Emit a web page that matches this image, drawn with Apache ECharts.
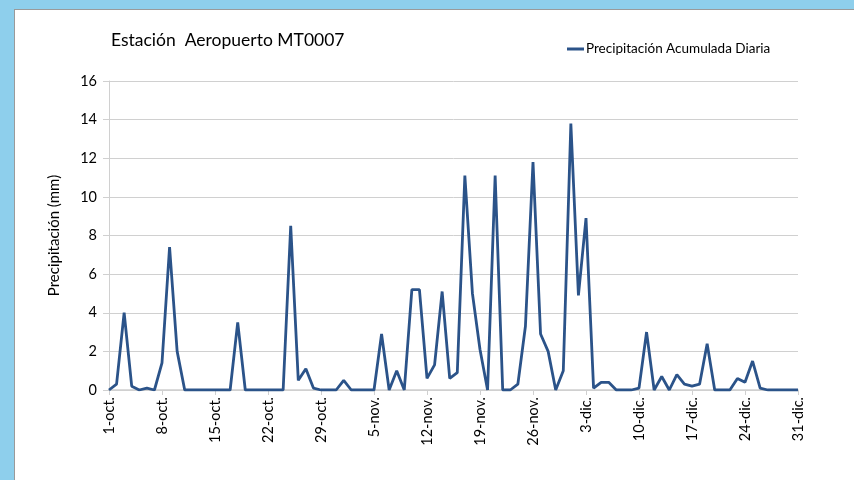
<!DOCTYPE html>
<html>
<head>
<meta charset="utf-8">
<script src="https://cdn.jsdelivr.net/npm/echarts@6/dist/echarts.min.js"></script>
<style>
  html, body { margin: 0; padding: 0; }
  body { width: 854px; height: 480px; background: #8ecfec; position: relative; overflow: hidden; }
  .panel { position: absolute; left: 14px; top: 9px; right: 0; bottom: 0; background: #fff;
           border-left: 1px solid #9a9a9a; border-top: 1px solid #9a9a9a; }
  #chart { position: absolute; left: 0; top: 0; width: 854px; height: 480px; }
</style>
</head>
<body>
<div class="panel"></div>
<div id="chart"></div>
<script>
// meses del periodo (nombre, días)
const months = [['oct.', 31], ['nov.', 30], ['dic.', 31]];
const categories = [];
months.forEach(function (m) {
  for (let d = 1; d <= m[1]; d++) categories.push(d + '-' + m[0]);
});

// precipitación diaria (mm), 1-oct a 31-dic
const precip = [
  0, 0.3, 4.0, 0.2, 0, 0.1, 0, 1.4, 7.4, 2.0,
  0, 0, 0, 0, 0, 0, 0, 3.5, 0, 0,
  0, 0, 0, 0, 8.5, 0.5, 1.1, 0.1, 0, 0,
  0, 0.5, 0, 0, 0, 0, 2.9, 0, 1.0, 0,
  5.2, 5.2, 0.6, 1.3, 5.1, 0.6, 0.9, 11.1, 5.0, 2.1,
  0, 11.1, 0, 0, 0.3, 3.3, 11.8, 2.9, 2.0, 0,
  1.0, 13.8, 4.9, 8.9, 0.1, 0.4, 0.4, 0, 0, 0,
  0.1, 3.0, 0, 0.7, 0, 0.8, 0.3, 0.2, 0.3, 2.4,
  0, 0, 0, 0.6, 0.4, 1.5, 0.1, 0, 0, 0,
  0, 0
];

const font = 'Lato, "Open Sans", sans-serif';
const chart = echarts.init(document.getElementById('chart'));
chart.setOption({
  backgroundColor: 'transparent',
  textStyle: { fontFamily: font },
  title: {
    text: 'Estación  Aeropuerto MT0007',
    left: 106, top: 26,
    textStyle: { fontSize: 17.5, fontWeight: 'normal', color: '#000', fontFamily: font }
  },
  legend: {
    left: 562, top: 37,
    icon: 'rect', itemWidth: 17, itemHeight: 3, itemGap: 4,
    textStyle: { fontSize: 13.5, color: '#000', fontFamily: font, padding: [0, 0, 0, -3] },
    data: ['Precipitación Acumulada Diaria']
  },
  grid: { left: 109, right: 56, top: 81, bottom: 90 },
  xAxis: {
    type: 'category',
    data: categories,
    boundaryGap: false,
    axisLine: { lineStyle: { color: '#d0d0d0', width: 1.5 } },
    axisTick: { interval: 6, length: 5, lineStyle: { color: '#d0d0d0' } },
    axisLabel: { interval: 6, rotate: 90, margin: 7, fontSize: 14.5, color: '#000', fontFamily: font }
  },
  yAxis: {
    type: 'value',
    min: 0, max: 16, interval: 2,
    name: 'Precipitación (mm)',
    nameLocation: 'middle',
    nameGap: 47,
    nameTextStyle: { fontSize: 15, color: '#000', fontFamily: font },
    axisLine: { show: true, lineStyle: { color: '#d0d0d0' } },
    axisTick: { show: true, length: 6, lineStyle: { color: '#d0d0d0' } },
    axisLabel: { fontSize: 14.5, color: '#000', margin: 12, fontFamily: font },
    splitLine: { lineStyle: { color: '#d0d0d0' } }
  },
  series: [{
    name: 'Precipitación Acumulada Diaria',
    type: 'line',
    data: precip,
    showSymbol: false,
    lineStyle: { color: '#2b5389', width: 2.8 },
    itemStyle: { color: '#2b5389' }
  }]
});
</script>
</body>
</html>
